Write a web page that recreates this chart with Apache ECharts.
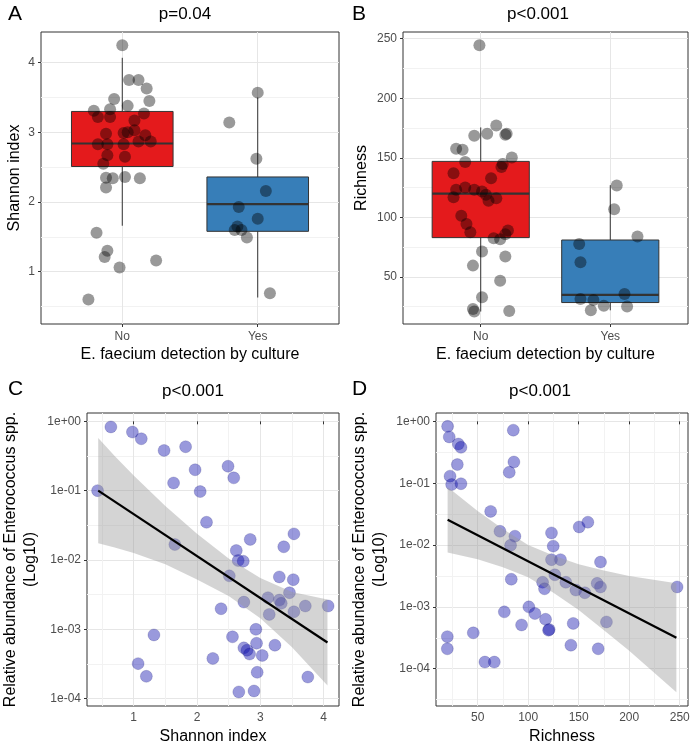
<!DOCTYPE html>
<html>
<head>
<meta charset="utf-8">
<title>Enterococcus diversity</title>
<script src="https://cdn.jsdelivr.net/npm/echarts@6/dist/echarts.min.js"></script>
<style>
  html, body { margin: 0; padding: 0; background: #fff; }
  #chart { width: 700px; height: 750px; }
</style>
</head>
<body>
<div id="chart"></div>
<script>
// ---- data ----
const groups = ['No', 'Yes'];

// A: Shannon index by culture result (x jitter is offset from the group centre)
const shannonNo = [4.25, 3.75, 3.75, 3.63, 3.48, 3.45, 3.38, 3.31, 3.33, 3.27, 3.22, 3.22, 3.17, 3.03, 2.99, 2.98, 2.96, 3.00,
  2.83, 2.83, 2.83, 2.87, 2.87, 2.67, 2.65, 2.55, 2.35, 2.34, 2.36, 2.34, 2.21, 1.56, 1.30, 1.21, 1.16, 1.06, 0.60];
const shannonNoJitter = [0, 0.05, 0.12, 0.18, -0.06, 0.20, 0.04, -0.21, -0.09, 0.16, -0.18, -0.09, 0.09, 0.09, 0.01, -0.12, 0.17, 0.04,
  -0.18, -0.11, 0.01, 0.12, 0.21, -0.11, 0.02, -0.14, -0.12, -0.07, 0.02, 0.13, -0.12, -0.19, -0.11, -0.13, 0.25, -0.02, -0.25];
const shannonYes = [3.57, 3.14, 2.62, 2.16, 1.93, 1.76, 1.65, 1.60, 1.60, 1.49, 0.69];
const shannonYesJitter = [0, -0.21, -0.01, 0.06, -0.14, 0.00, -0.15, -0.17, -0.12, -0.08, 0.09];
// [whisker low, Q1, median, Q3, whisker high]
const shannonBoxNo = [1.66, 2.51, 2.84, 3.30, 4.07];
const shannonBoxYes = [0.63, 1.58, 1.97, 2.36, 3.50];

// B: Richness by culture result
const richNo = [244.4, 177.2, 170.2, 170.2, 169.3, 168.5, 157.6, 156.7, 150.3, 146.4, 144.9, 142.2, 137.1, 132.9, 125.1, 123.1, 123.1,
  121.7, 118.9, 116.9, 116.1, 113.9, 101.3, 94.5, 87.5, 88.9, 85.9, 82.5, 81.7, 71.3, 67.1, 59.5, 46.9, 32.9, 23.1, 20.9, 21.4];
const richNoJitter = [-0.01, 0.12, 0.05, 0.20, 0.19, -0.05, -0.19, -0.14, 0.24, -0.12, 0.17, 0.16, -0.21, 0.08, -0.12, -0.19, -0.05,
  0.01, 0.04, -0.21, 0.12, 0.06, -0.15, -0.11, -0.08, 0.21, 0.19, 0.10, 0.15, 0.01, 0.19, -0.06, 0.15, 0.01, -0.06, -0.05, 0.22];
const richYes = [126.8, 106.9, 83.9, 77.7, 62.3, 35.7, 31.5, 30.7, 25.9, 25.1, 22.0];
const richYesJitter = [0.05, 0.03, 0.21, -0.24, -0.23, 0.11, -0.23, -0.13, -0.05, 0.13, -0.15];
const richBoxNo = [21, 83, 120, 147, 175.5];
const richBoxYes = [22, 28.5, 35, 81, 127];

// C: relative abundance of Enterococcus vs Shannon index
const cShannon = [0.43, 0.64, 0.98, 1.12, 1.48, 1.82, 1.97, 1.63, 2.05, 2.15, 1.65, 2.49, 2.58, 2.62, 2.65, 2.73, 2.84, 2.51,
  3.37, 3.53, 3.30, 3.52, 2.74, 3.12, 3.30, 3.33, 3.46, 3.14, 3.53, 3.71, 4.07, 2.38, 2.93, 2.56, 2.94, 2.74, 2.79, 2.83,
  3.03, 3.23, 2.25, 1.32, 1.07, 1.20, 2.95, 3.75, 2.66, 2.90];
const cAbund = [0.100, 0.83, 0.70, 0.56, 0.38, 0.43, 0.20, 0.129, 0.097, 0.035, 0.0167, 0.225, 0.153, 0.0137, 0.0098, 0.0096, 0.0198, 0.0059,
  0.0155, 0.0238, 0.0057, 0.0052, 0.00247, 0.00286, 0.00264, 0.00237, 0.00337, 0.00164, 0.00179, 0.00217, 0.00217, 0.00198, 0.0010, 0.00078,
  0.00063, 0.00054, 0.00050, 0.00044, 0.00042, 0.00059, 0.00038, 0.00083, 0.00032, 0.00021, 0.00024, 0.000205, 0.000125, 0.000129];
// fitted line and 95% band, log10 units
const cFitX = [0.44, 4.06];
const cFitLog = [-1.00, -3.19];
const cBandX = [0.44, 0.7, 1.0, 1.5, 2.0, 2.5, 3.0, 3.5, 4.06];
const cBandUpperLog = [-0.24, -0.50, -0.78, -1.22, -1.62, -1.98, -2.26, -2.46, -2.57];
const cBandLowerLog = [-1.76, -1.82, -1.90, -2.06, -2.28, -2.52, -2.84, -3.26, -3.81];

// D: relative abundance of Enterococcus vs Richness
const dRich = [20.3, 21.9, 30.9, 33.5, 29.9, 22.7, 24.3, 33.5, 85.3, 85.9, 81.3, 62.9, 72.1, 86.9, 82.6, 83.3, 76.4, 45.7,
  20.0, 20.0, 57.2, 66.5, 100.7, 106.7, 93.5, 117.2, 120.8, 120.2, 114.3, 116.2, 123.1, 124.8, 123.1, 132.0, 126.4, 137.3,
  147.2, 156.1, 150.5, 159.1, 171.6, 168.3, 171.6, 177.5, 144.6, 142.3, 169.3, 247.4];
const dAbund = [0.83, 0.56, 0.43, 0.38, 0.20, 0.13, 0.095, 0.098, 0.72, 0.22, 0.15, 0.035, 0.0167, 0.0139, 0.0099, 0.0028, 0.00083, 0.00038,
  0.00033, 0.00021, 0.000128, 0.000128, 0.0010, 0.00078, 0.00051, 0.00063, 0.00043, 0.00042, 0.0025, 0.00196, 0.0157, 0.0096, 0.0058, 0.0058,
  0.0033, 0.0025, 0.00187, 0.00169, 0.0196, 0.0234, 0.0053, 0.0024, 0.0021, 0.00057, 0.00054, 0.00024, 0.00021, 0.0021];
const dFitX = [20.3, 246.7];
const dFitLog = [-1.59, -3.50];
const dBandX = [20.3, 50, 75, 100, 125, 150, 175, 200, 246.7];
const dBandUpperLog = [-1.06, -1.45, -1.74, -2.00, -2.17, -2.31, -2.41, -2.50, -2.62];
const dBandLowerLog = [-2.12, -2.23, -2.36, -2.52, -2.77, -3.05, -3.38, -3.71, -4.38];

const decadeTicks = [-4, -3, -2, -1, 0];

// ---- styling ----
const FONT = '"Liberation Sans", Arial, sans-serif';
const boxColors = ['#E41A1C', '#377EB8'];
const boxWidth = 0.75;
const greyPoint = 'rgba(0,0,0,0.5)';
const bluePoint = 'rgba(10,10,170,0.52)';

const chart = echarts.init(document.getElementById('chart'));

const sciLabel = v => '1e' + (v < 0 ? '-' : '+') + String(Math.abs(Math.round(v))).padStart(2, '0');

function axis(gridIndex, min, max, ticks, opts = {}) {
  return Object.assign({
    type: 'value',
    gridIndex,
    min,
    max,
    axisLine: { show: false },
    axisTick: { show: true, length: 3, lineStyle: { color: '#333' }, customValues: ticks },
    axisLabel: { color: '#4d4d4d', fontSize: 12, fontFamily: FONT, margin: 6, customValues: ticks },
    splitLine: { show: true, lineStyle: { color: '#e6e6e6', width: 1 } },
    minorTick: { show: false, splitNumber: 2 },
    minorSplitLine: { show: true, lineStyle: { color: '#f2f2f2', width: 1 } },
    nameLocation: 'middle',
    nameTextStyle: { color: '#000', fontSize: 16, fontFamily: FONT }
  }, opts);
}

function catAxis(gridIndex, name) {
  return axis(gridIndex, 0.4, 2.6, [1, 2], {
    name,
    nameGap: 23,
    axisLabel: { color: '#4d4d4d', fontSize: 12, fontFamily: FONT, margin: 7, customValues: [1, 2],
      formatter: v => groups[Math.round(v) - 1] },
    minorSplitLine: { show: false }
  });
}

function boxSeries(idx, boxes) {
  return {
    type: 'custom',
    xAxisIndex: idx, yAxisIndex: idx,
    z: 2,
    silent: true,
    data: boxes.map((b, i) => [i + 1, b[0], b[1], b[2], b[3], b[4], i]),
    renderItem: (params, api) => {
      const x = api.value(0);
      const lo = api.coord([x, api.value(1)]);
      const q1 = api.coord([x, api.value(2)]);
      const med = api.coord([x, api.value(3)]);
      const q3 = api.coord([x, api.value(4)]);
      const hi = api.coord([x, api.value(5)]);
      const half = api.size([boxWidth, 0])[0] / 2;
      return {
        type: 'group',
        children: [
          { type: 'line', shape: { x1: lo[0], y1: lo[1], x2: hi[0], y2: hi[1] }, style: { stroke: '#333', lineWidth: 1 } },
          { type: 'rect', shape: { x: q3[0] - half, y: q3[1], width: half * 2, height: q1[1] - q3[1] },
            style: { fill: boxColors[api.value(6)], stroke: '#333', lineWidth: 1 } },
          { type: 'line', shape: { x1: med[0] - half, y1: med[1], x2: med[0] + half, y2: med[1] },
            style: { stroke: '#333', lineWidth: 2.2 } }
        ]
      };
    }
  };
}

function jitterSeries(idx, values, jitter, group) {
  return {
    type: 'scatter',
    xAxisIndex: idx, yAxisIndex: idx,
    z: 3,
    silent: true,
    symbolSize: 12,
    itemStyle: { color: greyPoint },
    data: values.map((v, i) => [group + jitter[i], v])
  };
}

function pointSeries(idx, xs, abund) {
  return {
    type: 'scatter',
    xAxisIndex: idx, yAxisIndex: idx,
    z: 2,
    silent: true,
    symbolSize: 12,
    itemStyle: { color: bluePoint, borderColor: 'rgba(0,0,90,0.35)', borderWidth: 0.6 },
    data: xs.map((x, i) => [x, Math.log10(abund[i])])
  };
}

function bandSeries(idx, xs, upper, lower) {
  return {
    type: 'custom',
    xAxisIndex: idx, yAxisIndex: idx,
    z: 4,
    silent: true,
    data: [[xs[0], upper[0]]],
    renderItem: (params, api) => {
      const pts = [];
      xs.forEach((x, i) => pts.push(api.coord([x, upper[i]])));
      for (let i = xs.length - 1; i >= 0; i--) pts.push(api.coord([xs[i], lower[i]]));
      return { type: 'polygon', shape: { points: pts }, style: { fill: 'rgba(153,153,153,0.42)' } };
    }
  };
}

function fitSeries(idx, xs, ys) {
  return {
    type: 'line',
    xAxisIndex: idx, yAxisIndex: idx,
    z: 5,
    silent: true,
    symbol: 'none',
    lineStyle: { color: '#000', width: 2.2 },
    data: xs.map((x, i) => [x, ys[i]])
  };
}

function label(text, x, y, size, align) {
  return { type: 'text', x, y, silent: true,
    style: { text, fill: '#000', font: size + 'px ' + FONT, textAlign: align, textVerticalAlign: 'middle' } };
}

const gridStyle = { show: true, borderColor: '#333', borderWidth: 1, backgroundColor: 'transparent', containLabel: false };

const option = {
  animation: false,
  backgroundColor: '#fff',
  grid: [
    Object.assign({ left: 41, top: 32, width: 298, height: 292 }, gridStyle),
    Object.assign({ left: 403, top: 32, width: 285, height: 292 }, gridStyle),
    Object.assign({ left: 87, top: 413, width: 252, height: 293 }, gridStyle),
    Object.assign({ left: 436, top: 413, width: 252, height: 293 }, gridStyle)
  ],
  xAxis: [
    catAxis(0, 'E. faecium detection by culture'),
    catAxis(1, 'E. faecium detection by culture'),
    axis(2, 0.263, 4.242, [1, 2, 3, 4], { name: 'Shannon index', nameGap: 23 }),
    axis(3, 8.8, 258.2, [50, 100, 150, 200, 250], { name: 'Richness', nameGap: 23 })
  ],
  yAxis: [
    axis(0, 0.25, 4.44, [1, 2, 3, 4], { name: 'Shannon index', nameGap: 18 }),
    axis(1, 10.5, 255.6, [50, 100, 150, 200, 250], { name: 'Richness', nameGap: 33 }),
    axis(2, -4.106, 0.12, decadeTicks, { name: 'Relative abundance of Enterococcus spp.\n(Log10)', nameGap: 46,
      nameTextStyle: { color: '#000', fontSize: 16, fontFamily: FONT, lineHeight: 20 },
      axisLabel: { color: '#4d4d4d', fontSize: 12, fontFamily: FONT, margin: 6, customValues: decadeTicks, formatter: sciLabel } }),
    axis(3, -4.603, 0.135, decadeTicks, { name: 'Relative abundance of Enterococcus spp.\n(Log10)', nameGap: 46,
      nameTextStyle: { color: '#000', fontSize: 16, fontFamily: FONT, lineHeight: 20 },
      axisLabel: { color: '#4d4d4d', fontSize: 12, fontFamily: FONT, margin: 6, customValues: decadeTicks, formatter: sciLabel } })
  ],
  graphic: [
    label('A', 8, 14, 21, 'left'),
    label('p=0.04', 185, 14, 17, 'center'),
    label('B', 352, 14, 21, 'left'),
    label('p<0.001', 538, 14, 17, 'center'),
    label('C', 8, 389, 21, 'left'),
    label('p<0.001', 193, 391, 17, 'center'),
    label('D', 352, 389, 21, 'left'),
    label('p<0.001', 540, 391, 17, 'center')
  ],
  series: [
    boxSeries(0, [shannonBoxNo, shannonBoxYes]),
    jitterSeries(0, shannonNo, shannonNoJitter, 1),
    jitterSeries(0, shannonYes, shannonYesJitter, 2),
    boxSeries(1, [richBoxNo, richBoxYes]),
    jitterSeries(1, richNo, richNoJitter, 1),
    jitterSeries(1, richYes, richYesJitter, 2),
    pointSeries(2, cShannon, cAbund),
    bandSeries(2, cBandX, cBandUpperLog, cBandLowerLog),
    fitSeries(2, cFitX, cFitLog),
    pointSeries(3, dRich, dAbund),
    bandSeries(3, dBandX, dBandUpperLog, dBandLowerLog),
    fitSeries(3, dFitX, dFitLog)
  ]
};

chart.setOption(option);
</script>
</body>
</html>
